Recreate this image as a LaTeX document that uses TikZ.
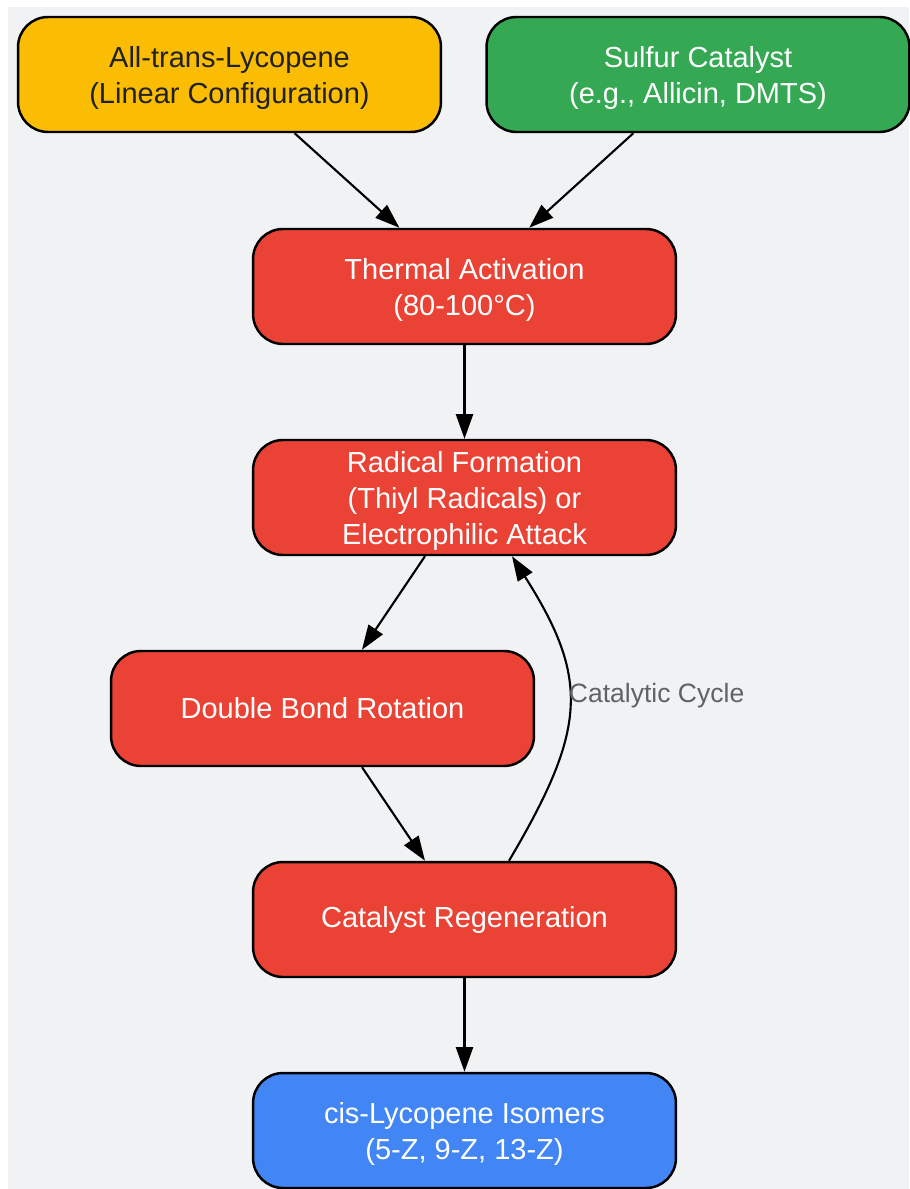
\documentclass[tikz,border=0pt]{standalone}
\usepackage{fontspec}
\setmainfont{Liberation Sans}
\usetikzlibrary{arrows.meta, positioning}

\definecolor{bggray}{HTML}{F1F2F4}
\definecolor{lyyellow}{HTML}{FBBC04}
\definecolor{sgreen}{HTML}{34A853}
\definecolor{rxred}{HTML}{EA4335}
\definecolor{isoblue}{HTML}{4285F4}
\definecolor{darktext}{HTML}{202124}
\definecolor{cyclegray}{HTML}{5F6368}

\newcommand\topstrut{\rule{0pt}{16pt}}

\tikzset{
  stage/.style={draw=black, line width=1.4pt, rounded corners=0.6cm,
    minimum width=8.46cm, minimum height=2.3cm, inner ysep=1pt, align=center,
    font=\fontsize{16.5}{20.5}\selectfont, text=white},
  flow/.style={-{Triangle[length=14pt,width=9.7pt]}, line width=1.2pt}
}

\begin{document}
\begin{tikzpicture}[x=0.02cm, y=-0.02cm]
\useasboundingbox (0,0) rectangle (909,1189);
\fill [bggray] (8,7) rectangle (909,1189);

% inputs
\node (lyco) [stage, fill=lyyellow, text=darktext] at (229.5,74.5) {\topstrut All-trans-Lycopene\\(Linear Configuration)};
\node (cat) [stage, fill=sgreen] at (698,74.5) {\topstrut Sulfur Catalyst\\(e.g., Allicin, DMTS)};

% reaction steps
\node (therm) [stage, fill=rxred] at (464.5,286.5) {\topstrut Thermal Activation\\(80-100°C)};
\node (rad) [stage, fill=rxred] at (464.5,497.5) {\topstrut Radical Formation\\(Thiyl Radicals) or\\Electrophilic Attack};
\node (rot) [stage, fill=rxred] at (322.5,708.5) {Double Bond Rotation};
\node (regen) [stage, fill=rxred] at (464.5,919.5) {Catalyst Regeneration};
\node (iso) [stage, fill=isoblue] at (464.5,1130.5) {\topstrut cis-Lycopene Isomers\\(5-Z, 9-Z, 13-Z)};

\draw [flow] (lyco) -- (therm);
\draw [flow] (cat) -- (therm);
\draw [flow] (therm) -- (rad);
\draw [flow] (rad) -- (rot);
\draw [flow] (rot) -- (regen);
\draw [flow] (regen) -- (iso);

% catalyst loop
\draw [flow] ([xshift=0.89cm]regen.north) .. controls +(78,-132) and +(78,123) .. ([xshift=0.95cm]rad.south)
  node [pos=0.5, anchor=west, yshift=0.18cm, xshift=-4pt, text=cyclegray, font=\fontsize{15.1}{18}\selectfont] {Catalytic Cycle};
\end{tikzpicture}
\end{document}
